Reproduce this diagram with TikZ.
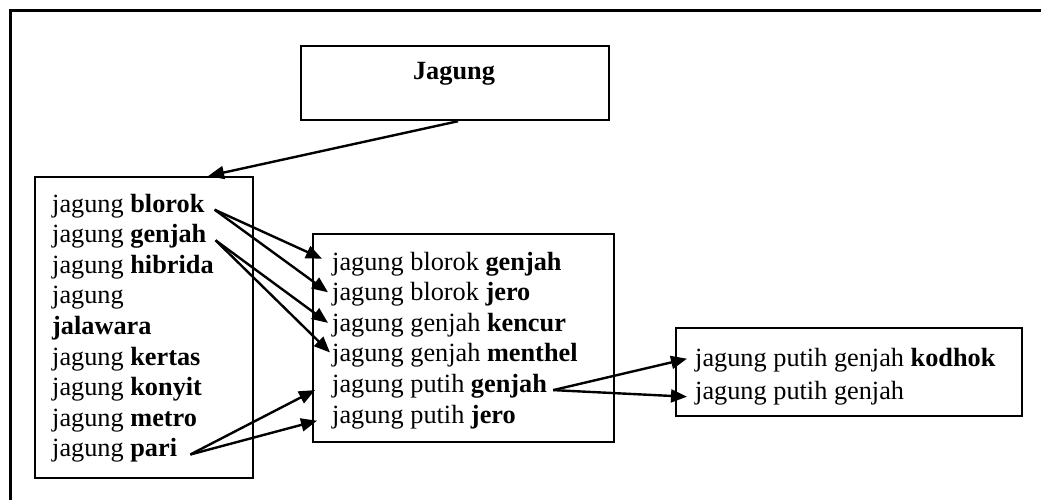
\documentclass[tikz,border=0pt]{standalone}
\usepackage{fontspec}
\setmainfont{Liberation Serif}
\usetikzlibrary{arrows.meta}
\tikzset{
  lbl/.style={anchor=base west, inner sep=0pt, font=\fontsize{26.3pt}{30pt}\selectfont},
  boxx/.style={draw, line width=2.2pt, inner sep=0pt, anchor=north west},
  arr/.style={-{Triangle[length=16pt,width=13pt]}, line width=2.4pt},
  frame/.style={line width=3pt}
}
\begin{document}
\begin{tikzpicture}[x=1pt,y=-1pt]
\useasboundingbox (0,0) rectangle (1041,500);
% outer frame (cropped)
\draw[frame] (10,500) -- (10,11) -- (1041,11);
% boxes
\node[boxx, minimum width=308pt, minimum height=74pt] (jbox) at (300,45) {};
\node[boxx, minimum width=218pt, minimum height=301pt] (lbox) at (34,176) {};
\node[boxx, minimum width=301pt, minimum height=208pt] (mbox) at (312,233) {};
\node[boxx, minimum width=346pt, minimum height=88pt] (rbox) at (675,327) {};
% title
\node[anchor=base, inner sep=0pt, font=\fontsize{26.3pt}{30pt}\selectfont\bfseries] (jt) at (454,80) {Jagung};
% left lines
\node[lbl] (L1) at (52,212) {jagung \textbf{blorok}};
\node[lbl] (L2) at (52,242.6) {jagung \textbf{genjah}};
\node[lbl] (L3) at (52,273.2) {jagung \textbf{hibrida}};
\node[lbl] (L4) at (52,303.8) {jagung};
\node[lbl] (L5) at (52,334.4) {\textbf{jalawara}};
\node[lbl] (L6) at (52,365) {jagung \textbf{kertas}};
\node[lbl] (L7) at (52,395.6) {jagung \textbf{konyit}};
\node[lbl] (L8) at (52,426.2) {jagung \textbf{metro}};
\node[lbl] (L9) at (52,456.8) {jagung \textbf{pari}};
% middle lines
\node[lbl] (M1) at (332,270) {jagung blorok \textbf{genjah}};
\node[lbl] (M2) at (332,300.6) {jagung blorok \textbf{jero}};
\node[lbl] (M3) at (332,331.2) {jagung genjah \textbf{kencur}};
\node[lbl] (M4) at (332,361.8) {jagung genjah \textbf{menthel}};
\node[lbl] (M5) at (332,392.4) {jagung putih \textbf{genjah}};
\node[lbl] (M6) at (332,423) {jagung putih \textbf{jero}};
% right lines
\node[lbl] (R1) at (695,366) {jagung putih genjah \textbf{kodhok}};
\node[lbl] (R2) at (695,399) {jagung putih genjah};
% arrows
\draw[arr] ([xshift=3pt]jbox.south) -- ([xshift=64pt]lbox.north);
\draw[arr] ([xshift=10pt]L1.mid east) -- ([xshift=-10pt,yshift=9pt]M1.mid west);
\draw[arr] ([xshift=10pt]L1.mid east) -- ([xshift=-4pt,yshift=6pt]M2.mid west);
\draw[arr] ([xshift=9pt]L2.mid east) -- ([xshift=-4pt,yshift=6pt]M3.mid west);
\draw[arr] ([xshift=9pt]L2.mid east) -- ([xshift=-2pt,yshift=7pt]M4.mid west);
\draw[arr] ([xshift=13pt]L9.mid east) -- ([xshift=-17pt]M5.mid west);
\draw[arr] ([xshift=13pt]L9.mid east) -- ([xshift=-15pt]M6.mid west);
\draw[arr] ([xshift=6pt]M5.mid east) -- ([xshift=-8pt,yshift=5pt]R1.mid west);
\draw[arr] ([xshift=6pt]M5.mid east) -- ([xshift=-8pt]R2.mid west);
\end{tikzpicture}
\end{document}
